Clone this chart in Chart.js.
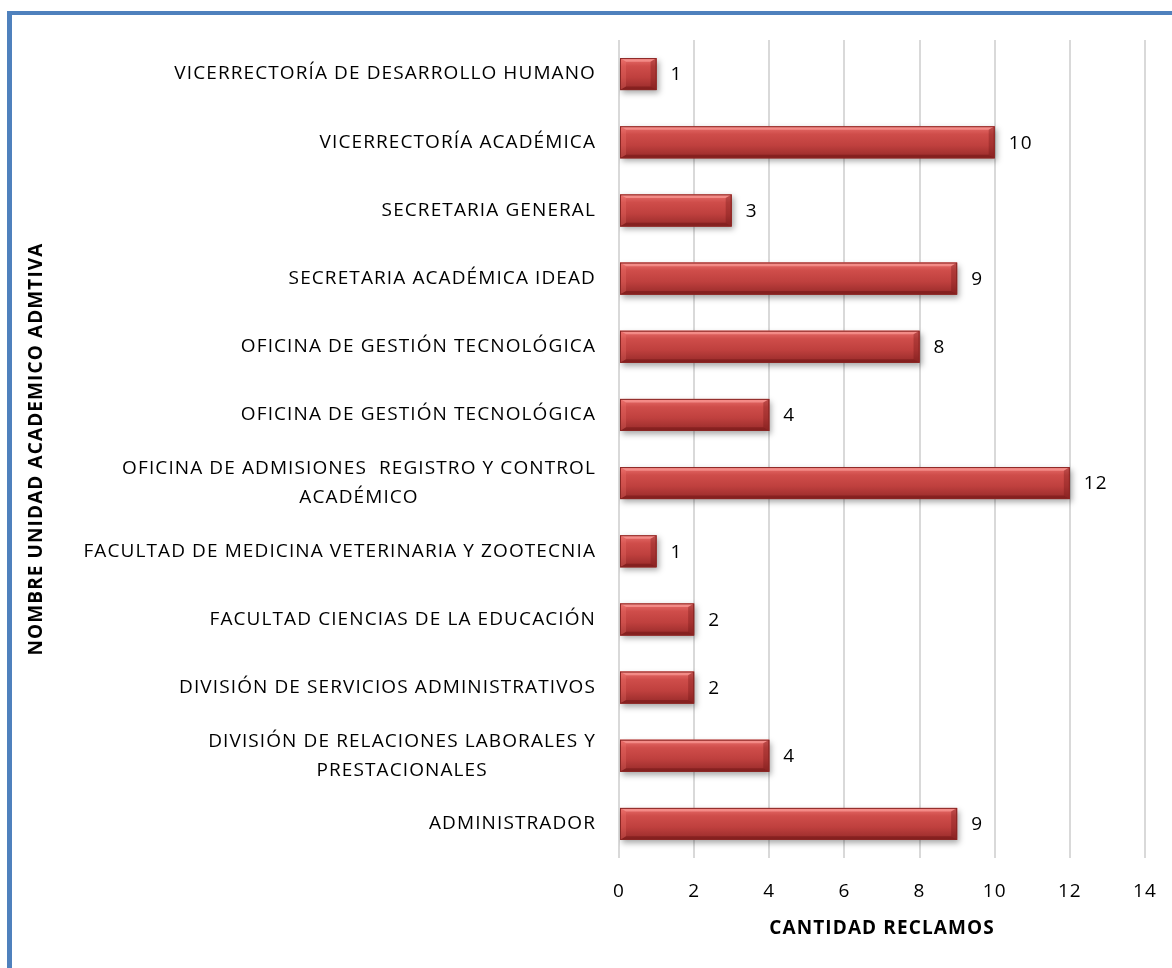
<!DOCTYPE html>
<html>
<head>
<meta charset="utf-8">
<script src="https://cdn.jsdelivr.net/npm/chart.js@4/dist/chart.umd.min.js"></script>
<style>
  html, body { margin: 0; padding: 0; background: #fff; }
  #wrap { position: relative; width: 1172px; height: 968px; overflow: hidden; }
  #frame { position: absolute; left: 7px; top: 11px; width: 1200px; height: 1000px;
           border-top: 4px solid #4F81BD; border-left: 5px solid #4F81BD; box-sizing: border-box; }
  canvas { position: absolute; left: 0; top: 0; }
</style>
</head>
<body>
<div id="wrap">
  <div id="frame"></div>
  <canvas id="c" width="1172" height="968"></canvas>
</div>
<script>
// Units, listed top to bottom as they appear on the chart
const categories = [
  'VICERRECTORÍA DE DESARROLLO HUMANO',
  'VICERRECTORÍA ACADÉMICA',
  'SECRETARIA GENERAL',
  'SECRETARIA ACADÉMICA IDEAD',
  'OFICINA DE GESTIÓN TECNOLÓGICA',
  'OFICINA DE GESTIÓN TECNOLÓGICA',
  ['OFICINA DE ADMISIONES  REGISTRO Y CONTROL', 'ACADÉMICO'],
  'FACULTAD DE MEDICINA VETERINARIA Y ZOOTECNIA',
  'FACULTAD CIENCIAS DE LA EDUCACIÓN',
  'DIVISIÓN DE SERVICIOS ADMINISTRATIVOS',
  ['DIVISIÓN DE RELACIONES LABORALES Y', 'PRESTACIONALES'],
  'ADMINISTRADOR'
];
// Number of complaints per unit
const reclamos = [1, 10, 3, 9, 8, 4, 12, 1, 2, 2, 4, 9];
// Value axis
const xMin = 0;
const xMax = 14;
const xStep = 2;

const FONT = '"Open Sans", Lato, sans-serif';
const LABEL_SIZE = 19;
const SPACING = '1.1px';

// Slightly open tracking for every piece of text on the canvas
const textTracking = {
  id: 'textTracking',
  beforeInit(chart) { chart.ctx.letterSpacing = SPACING; },
  beforeDraw(chart) { chart.ctx.letterSpacing = SPACING; }
};

// Cylinder-like bevelled bars with a soft drop shadow
const bevelBars = {
  id: 'bevelBars',
  beforeDatasetsDraw(chart) {
    const ctx = chart.ctx;
    ctx.save();
    ctx.shadowColor = 'rgba(0,0,0,0.35)';
    ctx.shadowBlur = 6;
    ctx.shadowOffsetX = 2;
    ctx.shadowOffsetY = 3;
  },
  afterDatasetsDraw(chart) {
    const ctx = chart.ctx;
    ctx.restore();
    const meta = chart.getDatasetMeta(0);
    ctx.save();
    meta.data.forEach(el => {
      const x0 = Math.min(el.base, el.x), x1 = Math.max(el.base, el.x);
      const y0 = el.y - el.height / 2, y1 = el.y + el.height / 2;
      const w = x1 - x0, h = y1 - y0;
      const b = Math.min(6, w / 3);
      const g = ctx.createLinearGradient(0, y0, 0, y1);
      g.addColorStop(0, '#e86e6b');
      g.addColorStop(0.25, '#cf4d4a');
      g.addColorStop(0.6, '#bf403e');
      g.addColorStop(1, '#962a29');
      ctx.fillStyle = g;
      ctx.fillRect(x0, y0, w, h);
      // top face
      ctx.fillStyle = 'rgba(255,165,160,0.6)';
      ctx.beginPath();
      ctx.moveTo(x0, y0); ctx.lineTo(x1, y0); ctx.lineTo(x1 - b, y0 + b * 0.6); ctx.lineTo(x0 + b, y0 + b * 0.6);
      ctx.closePath(); ctx.fill();
      // bottom face
      ctx.fillStyle = 'rgba(90,10,10,0.35)';
      ctx.beginPath();
      ctx.moveTo(x0, y1); ctx.lineTo(x1, y1); ctx.lineTo(x1 - b, y1 - b * 0.6); ctx.lineTo(x0 + b, y1 - b * 0.6);
      ctx.closePath(); ctx.fill();
      // right end
      ctx.fillStyle = 'rgba(110,20,20,0.32)';
      ctx.beginPath();
      ctx.moveTo(x1, y0); ctx.lineTo(x1, y1); ctx.lineTo(x1 - b, y1 - b * 0.6); ctx.lineTo(x1 - b, y0 + b * 0.6);
      ctx.closePath(); ctx.fill();
      // left end
      ctx.fillStyle = 'rgba(255,130,125,0.22)';
      ctx.beginPath();
      ctx.moveTo(x0, y0); ctx.lineTo(x0, y1); ctx.lineTo(x0 + b, y1 - b * 0.6); ctx.lineTo(x0 + b, y0 + b * 0.6);
      ctx.closePath(); ctx.fill();
      ctx.strokeStyle = '#8a2624';
      ctx.lineWidth = 1;
      ctx.strokeRect(x0 + 0.5, y0 + 0.5, w - 1, h - 1);
    });
    // value labels at the end of each bar
    ctx.fillStyle = '#000';
    ctx.font = LABEL_SIZE + 'px ' + FONT;
    ctx.letterSpacing = SPACING;
    ctx.textAlign = 'left';
    ctx.textBaseline = 'middle';
    meta.data.forEach((el, i) => {
      ctx.fillText(String(reclamos[i]), el.x + 14, el.y + 1);
    });
    ctx.restore();
  }
};

// Category labels: each block right-aligned, lines centred within the block
const categoryLabels = {
  id: 'categoryLabels',
  afterDraw(chart) {
    const ctx = chart.ctx;
    const yScale = chart.scales.y;
    const right = chart.chartArea.left - 23;
    const lh = 29;
    ctx.save();
    ctx.fillStyle = '#000';
    ctx.font = LABEL_SIZE + 'px ' + FONT;
    ctx.letterSpacing = SPACING;
    ctx.textAlign = 'center';
    ctx.textBaseline = 'middle';
    categories.forEach((lab, i) => {
      const lines = Array.isArray(lab) ? lab : [lab];
      const maxW = Math.max(...lines.map(l => ctx.measureText(l).width));
      const cx = right - maxW / 2;
      const yc = yScale.getPixelForTick(i);
      const start = yc - (lines.length - 1) * lh / 2;
      lines.forEach((l, k) => ctx.fillText(l, cx, start + k * lh));
    });
    ctx.restore();
  }
};

new Chart(document.getElementById('c'), {
  type: 'bar',
  data: {
    labels: categories,
    datasets: [{
      data: reclamos,
      backgroundColor: '#bf403e',
      borderWidth: 0,
      categoryPercentage: 1,
      barPercentage: 0.47
    }]
  },
  options: {
    indexAxis: 'y',
    responsive: false,
    animation: false,
    layout: { padding: { left: 21, top: 40, right: 27, bottom: 0 } },
    plugins: { legend: { display: false }, tooltip: { enabled: false } },
    scales: {
      x: {
        min: xMin, max: xMax,
        grid: { color: '#d9d9d9', lineWidth: 2, drawTicks: false },
        border: { display: false },
        ticks: { stepSize: xStep, padding: 22, color: '#000', font: { family: FONT, size: LABEL_SIZE } },
        title: { display: true, text: 'CANTIDAD RECLAMOS', color: '#000',
                 font: { family: FONT, size: LABEL_SIZE, weight: 'bold' }, padding: { top: 4, bottom: 28 } },
        afterFit(scale) { scale.height = 110; scale.paddingRight = 0; scale.paddingLeft = 0; }
      },
      y: {
        grid: { display: false },
        border: { display: false },
        ticks: { display: false },
        title: { display: true, text: 'NOMBRE UNIDAD ACADEMICO ADMTIVA', color: '#000',
                 font: { family: FONT, size: LABEL_SIZE, weight: 'bold' }, padding: { top: 4, bottom: 4 } },
        afterFit(scale) { scale.width = 598; }
      }
    }
  },
  plugins: [textTracking, bevelBars, categoryLabels]
});
</script>
</body>
</html>
